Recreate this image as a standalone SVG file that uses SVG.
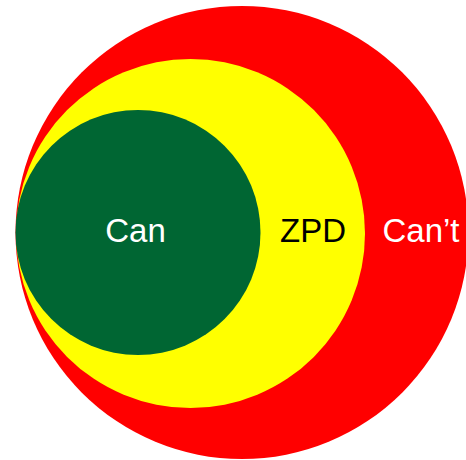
<svg xmlns="http://www.w3.org/2000/svg" width="466" height="460" viewBox="0 0 466 460">
<style>
text{font-family:"Liberation Sans",Arial,sans-serif;font-size:33px;text-anchor:middle}
</style>
<rect width="466" height="460" fill="#fff"/>
<g id="cant">
<circle cx="242" cy="232.5" r="226.5" fill="#ff0000"/>
<text x="421" y="241.5" fill="#fff">Can’t</text>
</g>
<g id="zpd">
<circle cx="190.5" cy="233.5" r="174.5" fill="#ffff00"/>
<text x="313" y="241.5" fill="#000">ZPD</text>
</g>
<g id="can">
<circle cx="138" cy="232.5" r="122.5" fill="#006633"/>
<text x="135.5" y="241.5" fill="#fff">Can</text>
</g>
<g id="connectors"/>
</svg>
